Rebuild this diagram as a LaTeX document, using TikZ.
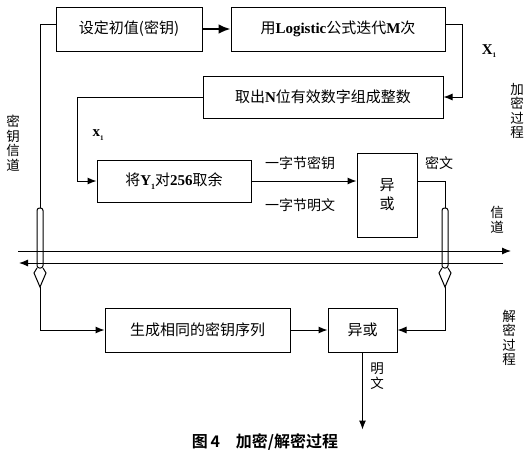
\documentclass[tikz,border=0pt]{standalone}
\usepackage{fontspec}
\setmainfont{Liberation Serif}
\newfontfamily\cjk{Noto Sans CJK SC}[BoldFont={Noto Sans CJK SC Bold}]
\newfontfamily\latf{Liberation Serif}
\newcommand\lat[1]{{\latf\bfseries #1}}
\newcommand\subone{\raisebox{-0.45ex}{\latf\bfseries\fontsize{8}{8}\selectfont 1}}
\usetikzlibrary{arrows.meta,calc}
\tikzset{
  box/.style={draw, line width=1pt, inner sep=0pt, font=\cjk\fontsize{15}{17}\selectfont},
  arr/.style={-{Latex[length=9pt,width=7pt]}, line width=1pt},
  ln/.style={line width=1pt},
  lbl/.style={inner sep=0pt, font=\cjk\fontsize{14}{16}\selectfont},
  vlbl/.style={inner sep=0pt, align=center, font=\cjk\fontsize{13.5}{14.5}\selectfont},
  pipe/.pic={\draw[line width=1pt, rounded corners=2.5pt] (0,60) -- (-3,60) -- (-3,0) -- (3,0) -- (3,60) -- (0,60);
             \draw[line width=1pt] (-3,60) -- (-6,65) -- (0,79) -- (6,65) -- (3,60);}
}
\begin{document}
\begin{tikzpicture}[x=1pt,y=-1pt]
\useasboundingbox (0,0) rectangle (528,459);
% boxes
\node[box, minimum width=146pt, minimum height=44pt] (b1) at (129,29) {设定初值(密钥)};
\node[box, minimum width=214pt, minimum height=44pt] (b2) at (338,29) {用\lat{Logistic}公式迭代\lat{M}次};
\node[box, minimum width=240pt, minimum height=42pt] (b3) at (323,97) {取出\lat{N}位有效数字组成整数};
\node[box, minimum width=154pt, minimum height=42pt] (b4) at (174,181) {将\lat{Y}\subone 对\lat{256}取余};
\node[box, minimum width=60pt, minimum height=84pt, align=center, font=\cjk\fontsize{15}{19}\selectfont] (x1) at (387,195) {异\\或};
\node[box, minimum width=185pt, minimum height=44pt] (b5) at (197.5,330) {生成相同的密钥序列};
\node[box, minimum width=69pt, minimum height=44pt] (x2) at (362.5,330) {异或};
% pipes
\coordinate (lp) at (40,208);
\coordinate (lpb) at (40,287);
\coordinate (rp) at (445,208);
\coordinate (rpb) at (445,287);
\pic at (lp) {pipe};
\pic at (rp) {pipe};
% channel lines
\coordinate (c1a) at (18,251);
\coordinate (c1b) at (511,251);
\coordinate (c2a) at (503,263);
\coordinate (c2b) at (19,263);
\draw[arr] (c1a) -- (c1b);
\draw[arr] (c2a) -- (c2b);
% connectors
\draw[-{Latex[length=12pt,width=10pt]}, line width=2.5pt] (b1.east) -- (b2.west);
\draw[arr] ([yshift=5pt]b2.east) -- ++(17,0) |- (b3.east);
\draw[arr] (b3.west) -- ++(-125,0) |- (b4.west);
\draw[arr] (b4.east) -- (b4.east -| x1.west);
\draw[ln] (x1.east |- b4.east) -| (rp);
\draw[arr] (rpb) |- (x2.east);
\draw[ln] ([yshift=5pt]b1.west) -| (lp);
\draw[arr] (lpb) |- (b5.west);
\draw[arr] (b5.east) -- (x2.west);
\draw[arr] (x2.south) -- ++(0,77);
% labels
\node[inner sep=0pt, font=\latf\bfseries\fontsize{15}{15}\selectfont] (lx1) at (489,51) {X\raisebox{-0.5ex}{\fontsize{7}{7}\selectfont 1}};
\node[inner sep=0pt, font=\latf\bfseries\fontsize{15}{15}\selectfont] (lx2) at (98,135) {x\raisebox{-0.5ex}{\fontsize{7}{7}\selectfont 1}};
\node[lbl] (k1) at (300,163) {一字节密钥};
\node[lbl] (k2) at (300,205) {一字节明文};
\node[lbl] (mw) at (439,163) {密文};
\node[vlbl] (jm) at (517,111) {加\\密\\过\\程};
\node[vlbl] (my) at (13,143) {密\\钥\\信\\道};
\node[vlbl] (xd) at (497,220) {信\\道};
\node[vlbl] (jm2) at (509,338) {解\\密\\过\\程};
\node[vlbl] (mw2) at (377,376) {明\\文};
\node[inner sep=0pt, font=\cjk\bfseries\fontsize{16}{18}\selectfont] (cap) at (265,442) {图\,4\quad 加密/解密过程};
\end{tikzpicture}
\end{document}
